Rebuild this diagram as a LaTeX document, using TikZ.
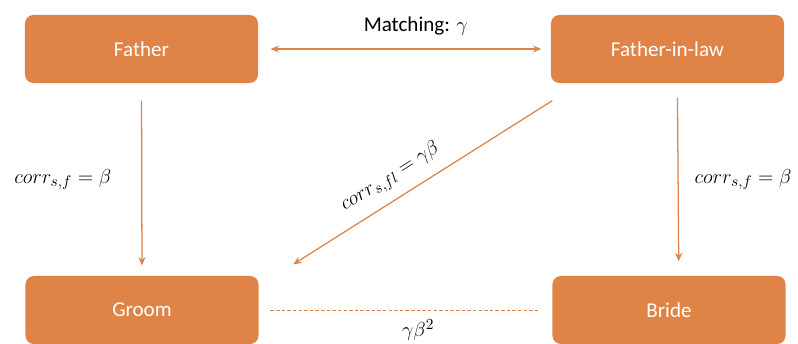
\documentclass[tikz,border=0pt]{standalone}
\usepackage{fontspec}
\setmainfont{Carlito}
\usetikzlibrary{arrows.meta}
\definecolor{kinorange}{HTML}{DF8446}

\begin{document}
\begin{tikzpicture}[x=0.025cm, y=-0.025cm, >={Stealth[length=6pt,width=5pt]},
  line width=0.9pt, font=\fontsize{15}{18}\selectfont,
  person/.style={fill=kinorange, text=white, rounded corners=6pt,
    minimum width=5.825cm, minimum height=1.7cm, inner sep=0pt},
  link/.style={draw=kinorange, line width=0.9pt},
  corrlabel/.style={black}]
  \useasboundingbox (0,0) rectangle (798,343);

  % the four people
  \node[person] (father) at (141.5,49)  {Father};
  \node[person] (inlaw)  at (667.5,49)  {Father-in-law};
  \node[person] (groom)  at (142,310)   {Groom};
  \node[person] (bride)  at (669,310)   {Bride};

  % matching between the two fathers
  \draw[link, <->, shorten <=8.5pt, shorten >=6.4pt] (father.east) -- (inlaw.west)
    node[midway, above=6pt, xshift=8pt, black] (match) {Matching: $\gamma$};

  % father to son, father to daughter
  \draw[link, ->, shorten <=12pt, shorten >=7pt] (father.south) -- (groom.north)
    node[midway, left=18pt, corrlabel] (corrf) {$corr_{s,f}=\beta$};
  \draw[link, ->, shorten <=10pt, shorten >=10pt]
    ([xshift=7pt]inlaw.south) -- ([xshift=7pt]bride.north)
    node[midway, right=8pt, corrlabel] (corrb) {$corr_{s,f}=\beta$};

  % cross link: father-in-law to groom
  \draw[link, ->] ([shift={(2,17)}]inlaw.south west) -- ([shift={(34,-11)}]groom.north east)
    node[pos=0.58, sloped, above=4pt, corrlabel] (corrfl) {$corr_{s,fl}=\gamma\beta$};

  % implied correlation of the couple
  \draw[link, dash pattern=on 2.5pt off 1.5pt, line width=0.7pt, shorten <=8pt, shorten >=9pt]
    (groom.east) -- (bride.west)
    node[midway, below=3pt, xshift=9pt, corrlabel] (couple) {$\gamma\beta^2$};
\end{tikzpicture}
\end{document}
